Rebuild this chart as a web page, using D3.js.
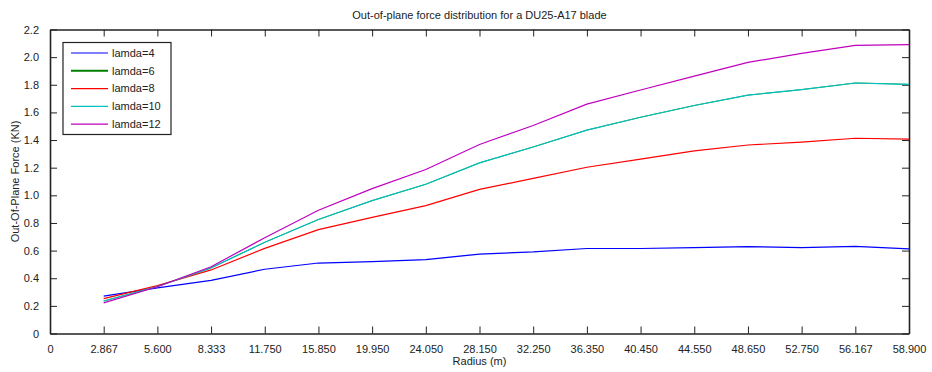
<!DOCTYPE html>
<html lang="en">
<head>
<meta charset="utf-8">
<title>Out-of-plane force distribution</title>
<script src="https://cdn.jsdelivr.net/npm/d3@7"></script>
<style>
  body { margin: 0; background: #fff; }
  text { font-family: "Liberation Sans", Arial, sans-serif; fill: #222; }
</style>
</head>
<body>
<script>
// radius tick labels (categorical, evenly spaced)
var radiusLabels = ["0", "2.867", "5.600", "8.333", "11.750", "15.850", "19.950", "24.050",
  "28.150", "32.250", "36.350", "40.450", "44.550", "48.650", "52.750", "56.167", "58.900"];
var yTicks = [0, 0.2, 0.4, 0.6, 0.8, 1.0, 1.2, 1.4, 1.6, 1.8, 2.0, 2.2];

var lamda4  = [0.27, 0.33, 0.385, 0.465, 0.51, 0.52, 0.535, 0.575, 0.59, 0.615, 0.615, 0.622, 0.628, 0.622, 0.63, 0.612];
var lamda6  = [0.235, 0.34, 0.475, 0.66, 0.825, 0.962, 1.08, 1.235, 1.35, 1.472, 1.565, 1.65, 1.725, 1.765, 1.813, 1.803];
var lamda8  = [0.252, 0.346, 0.46, 0.616, 0.752, 0.84, 0.925, 1.043, 1.122, 1.203, 1.262, 1.322, 1.364, 1.385, 1.413, 1.407];
var lamda10 = [0.235, 0.34, 0.475, 0.66, 0.825, 0.962, 1.08, 1.235, 1.35, 1.472, 1.565, 1.65, 1.725, 1.765, 1.813, 1.803];
var lamda12 = [0.222, 0.338, 0.483, 0.693, 0.892, 1.048, 1.187, 1.368, 1.505, 1.66, 1.762, 1.862, 1.962, 2.027, 2.085, 2.09];

var seriesNames = ["lamda=4", "lamda=6", "lamda=8", "lamda=10", "lamda=12"];
var seriesColors = ["#0000ff", "#008000", "#ff0000", "#00bfbf", "#bf00bf"];
var seriesValues = [lamda4, lamda6, lamda8, lamda10, lamda12];

var margin = {top: 29.5, right: 23, bottom: 38.5, left: 50},
    width = 932 - margin.left - margin.right,
    height = 372 - margin.top - margin.bottom;

var svg = d3.select("body").append("svg")
    .attr("width", 932)
    .attr("height", 372);

var g = svg.append("g")
    .attr("transform", "translate(" + margin.left + "," + margin.top + ")");

var x = d3.scalePoint().domain(radiusLabels).range([0, width]).padding(0);
var y = d3.scaleLinear().domain([0, 2.2]).range([height, 0]);

// inward ticks on all four sides
var xAxis = d3.axisBottom(x).tickSizeInner(-7).tickSizeOuter(0).tickPadding(12);
var xAxisTop = d3.axisTop(x).tickSizeInner(-7).tickSizeOuter(0).tickFormat("");
var yAxis = d3.axisLeft(y).tickValues(yTicks).tickSizeInner(-7).tickSizeOuter(0).tickPadding(11)
    .tickFormat(function(d) { return d === 0 ? "0" : d3.format(".1f")(d); });
var yAxisRight = d3.axisRight(y).tickValues(yTicks).tickSizeInner(-7).tickSizeOuter(0).tickFormat("");

g.append("g").attr("class", "axis").attr("transform", "translate(0," + height + ")").call(xAxis);
g.append("g").attr("class", "axis").call(xAxisTop);
g.append("g").attr("class", "axis").call(yAxis);
g.append("g").attr("class", "axis").attr("transform", "translate(" + width + ",0)").call(yAxisRight);

g.selectAll(".axis text").attr("font-size", 11).style("fill", "#222");
g.selectAll(".axis line").attr("stroke", "#222");
g.selectAll(".axis .domain").attr("stroke", "#222").attr("stroke-width", 1.6);

var line = d3.line()
    .x(function(d, i) { return x(radiusLabels[i + 1]); })
    .y(function(d) { return y(d); });

// lamda=6 sits exactly under lamda=10, so keep it thinner
g.selectAll(".series")
  .data(seriesValues)
  .enter().append("path")
    .attr("class", "series")
    .attr("fill", "none")
    .attr("stroke", function(d, i) { return seriesColors[i]; })
    .attr("stroke-width", function(d, i) { return i === 1 ? 0.8 : 1.2; })
    .attr("d", line);

// legend
var legend = g.append("g").attr("transform", "translate(13,13)");
legend.append("rect")
    .attr("width", 108).attr("height", 92)
    .attr("fill", "#fff").attr("stroke", "#222").attr("stroke-width", 1.2);

var items = legend.selectAll(".item")
  .data(seriesNames)
  .enter().append("g")
    .attr("transform", function(d, i) { return "translate(0," + (10.5 + i * 17.8) + ")"; });

items.append("line")
    .attr("x1", 8).attr("x2", 45)
    .attr("stroke", function(d, i) { return seriesColors[i]; })
    .attr("stroke-width", function(d, i) { return i === 1 ? 2 : 1.2; });

items.append("text")
    .attr("x", 49).attr("dy", "0.35em")
    .attr("font-size", 11)
    .text(function(d) { return d; });

// title and labels
svg.append("text")
    .attr("x", margin.left + width / 2).attr("y", 19)
    .attr("text-anchor", "middle").attr("font-size", 11)
    .text("Out-of-plane force distribution for a DU25-A17 blade");

svg.append("text")
    .attr("x", margin.left + width / 2).attr("y", 365)
    .attr("text-anchor", "middle").attr("font-size", 11)
    .text("Radius (m)");

svg.append("text")
    .attr("transform", "translate(19," + (margin.top + height / 2) + ") rotate(-90)")
    .attr("text-anchor", "middle").attr("font-size", 11)
    .text("Out-Of-Plane Force (KN)");
</script>
</body>
</html>
